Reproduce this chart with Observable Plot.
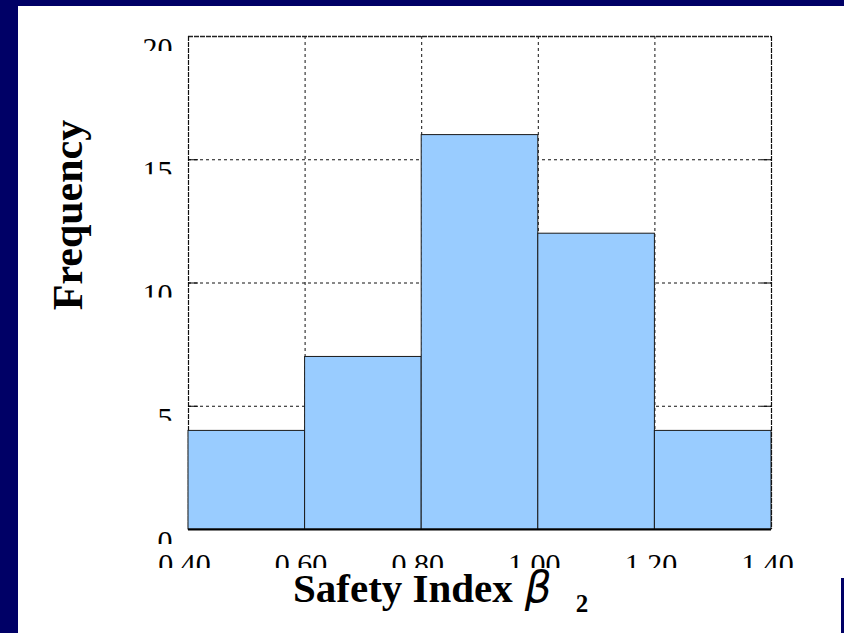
<!DOCTYPE html>
<html>
<head>
<meta charset="utf-8">
<script src="https://cdn.jsdelivr.net/npm/d3@7"></script>
<script src="https://cdn.jsdelivr.net/npm/@observablehq/plot@0.6"></script>
<style>
  html, body { margin: 0; padding: 0; background: #000066; }
  #page { position: relative; width: 844px; height: 633px; overflow: hidden; background: #000066; }
  .panel { position: absolute; background: #ffffff; }
  #chart { position: absolute; left: 0; top: 0; }
  #ylabel { position: absolute; left: 68px; top: 215px; transform: translate(-50%, -50%) rotate(-90deg);
            font-family: "Liberation Serif", serif; font-weight: bold; font-size: 42px; line-height: 42px; white-space: nowrap; color: #000; }
  #xlabel { position: absolute; left: 293px; top: 567px; font-family: "Liberation Serif", serif; font-weight: bold;
            font-size: 41px; line-height: 41px; white-space: nowrap; color: #000; }
  #xlabel .beta { font-family: "DejaVu Sans", sans-serif; font-style: italic; font-weight: normal; font-size: 42px; margin-left: 12px; }
  #xlabel .sub { font-size: 25px; position: relative; top: 10px; margin-left: 24px; }
</style>
</head>
<body>
<div id="page">
  <div class="panel" style="left:18px; top:6px; width:826px; height:559px;"></div>
  <div class="panel" style="left:18px; top:565px; width:823px; height:68px;"></div>
  <div class="panel" style="left:841px; top:565px; width:3px; height:13px;"></div>
  <div id="chart"></div>
  <div id="ylabel">Frequency</div>
  <div id="xlabel">Safety Index<span class="beta">β</span><span class="sub">2</span></div>
</div>
<script>
// Data
const binStart = [0.4, 0.6, 0.8, 1.0, 1.2];
const binEnd   = [0.6, 0.8, 1.0, 1.2, 1.4];
const frequency = [4, 7, 16, 12, 4];
const xTicks = [0.4, 0.6, 0.8, 1.0, 1.2, 1.4];
const xTickLabels = ["0.40", "0.60", "0.80", "1.00", "1.20", "1.40"];
const yTicks = [0, 5, 10, 15, 20];
const yTickLabels = ["0", "5", "10", "15", "20"];
const xGrid = [0.6, 0.8, 1.0, 1.2];
const yGrid = [5, 10, 15];

const bins = binStart.map((s, i) => ({x1: s, x2: binEnd[i], count: frequency[i]}));

const W = 844, H = 565, ML = 188, MR = 73, MT = 36, MB = 36;
const innerW = W - ML - MR;

function clipRender(id, top, bottom) {
  return function(index, scales, values, dimensions, context, next) {
    const g = next(index, scales, values, dimensions, context);
    const wrap = d3.create("svg:g").attr("clip-path", `url(#${id})`);
    const cp = wrap.append("clipPath").attr("id", id);
    for (const i of index) {
      const y = values.y[i];
      cp.append("rect").attr("x", 0).attr("width", dimensions.width)
        .attr("y", y + top).attr("height", bottom - top);
    }
    wrap.node().appendChild(g);
    return wrap.node();
  };
}

const chart = Plot.plot({
  width: W, height: H,
  marginLeft: ML, marginRight: MR, marginTop: MT, marginBottom: MB,
  style: {background: "transparent", overflow: "visible"},
  x: {domain: [0.4, 1.4], axis: null},
  y: {domain: [0, 20], axis: null},
  marks: [
    Plot.ruleY(yGrid, {stroke: "#111", strokeWidth: 1, strokeDasharray: "3,3"}),
    Plot.ruleX(xGrid, {stroke: "#111", strokeWidth: 1, strokeDasharray: "3,3"}),
    Plot.ruleY([20], {stroke: "#222", strokeWidth: 1.5, strokeDasharray: "5,1"}),
    Plot.ruleX([0.4, 1.4], {stroke: "#111", strokeWidth: 1.2, strokeDasharray: "5,1"}),
    Plot.rectY(bins, {x1: "x1", x2: "x2", y: "count", fill: "#99ccff", stroke: "#1a1a1a", strokeWidth: 1}),
    Plot.ruleY(yGrid, {stroke: "#000", strokeWidth: 1, insetRight: innerW - 10}),
    Plot.ruleY(yGrid, {stroke: "#000", strokeWidth: 1, insetLeft: innerW - 10}),
    Plot.ruleY([0], {stroke: "#000", strokeWidth: 2}),
    Plot.text(yTicks, {
      x: 0.4, y: d => d, text: (d, i) => yTickLabels[i],
      textAnchor: "end", lineAnchor: "top", dx: -16, dy: 0,
      fontFamily: "Liberation Serif", fontSize: 30, fill: "#000",
      render: clipRender("clipYLabels", -4, 15)
    }),
    Plot.text(xTicks, {
      x: d => d, y: 0, text: (d, i) => xTickLabels[i],
      textAnchor: "middle", lineAnchor: "top", dx: -4, dy: 23,
      fontFamily: "Liberation Serif", fontSize: 30, fill: "#000",
      render: clipRender("clipXLabels", 20, 39)
    })
  ]
});
document.getElementById("chart").appendChild(chart);
</script>
</body>
</html>
